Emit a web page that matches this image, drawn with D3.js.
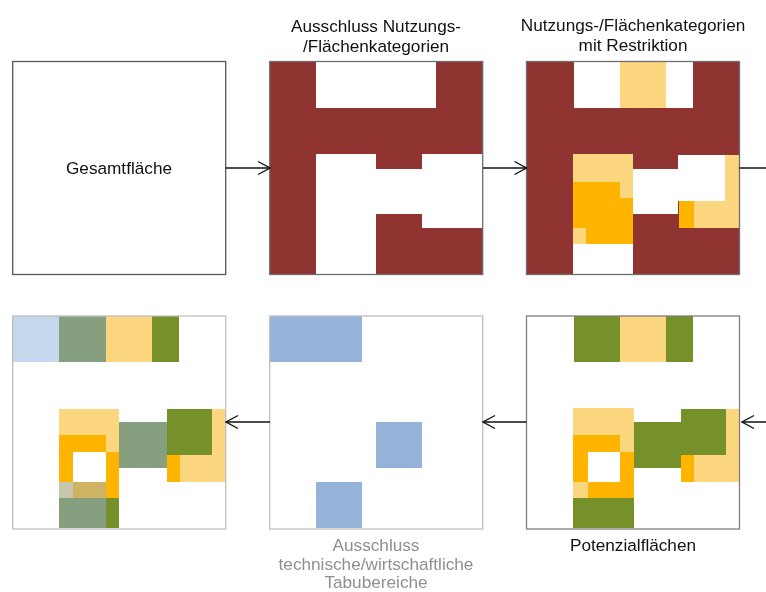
<!DOCTYPE html>
<html><head><meta charset="utf-8">
<script src="https://cdn.jsdelivr.net/npm/d3@7/dist/d3.min.js"></script>
<style>html,body{margin:0;padding:0;background:#fff}svg{display:block;filter:blur(0.4px)}text{font-family:"Liberation Sans",Arial,sans-serif}rect.cell{shape-rendering:crispEdges}</style>
</head><body><svg id="c" width="766" height="592"></svg>
<script>
// Each cell: area class, x0, y0, x1, y1 in map units (0..213)
const categories = ["excl","restrict","strong","pot","tech","techLight","techPot","techGrey","techTan"];
const categoryColours = ["#8f3430","#fdd780","#ffb500","#76912a","#95b2d9","#c5d8ee","#86a07f","#c7c6ac","#cdb363"];

const cellsExclusion = [
  ["excl",0,0,213,213],
  ["free",46.7,0,166.7,46.3],
  ["free",46.7,92.3,106.7,213],
  ["free",106.7,107,152.7,152.3],
  ["free",152.7,92.3,213,166.3]
];
const cellsRestriction = [
  ["excl",0,0,213,213],
  ["free",47,0,166.7,46.3],
  ["restrict",93,0,139.3,46.3],
  ["restrict",46.7,92.3,106.7,182.3],
  ["strong",46.7,120,93,166.7],
  ["strong",93,136.3,106.7,182.3],
  ["strong",59.7,166.7,93,182.3],
  ["free",46.7,182.3,106.7,213],
  ["free",106.7,107,151.7,152.3],
  ["free",151.7,93,198.7,139.7],
  ["restrict",198.7,93,213,166.7],
  ["restrict",167,139.7,198.7,166.7],
  ["strong",152.7,139.7,167,166.7]
];
const cellsPotential = [
  ["pot",47.3,0,93.3,45.6],
  ["restrict",93.3,0,139.7,45.6],
  ["pot",139.7,0,166.7,45.6],
  ["restrict",46.7,92.3,107.3,136],
  ["strong",46.7,119,93,136.3],
  ["strong",46.7,136.3,61.3,165.7],
  ["strong",93,135.7,107.3,182.3],
  ["strong",61.3,165.7,93,182.3],
  ["restrict",46.7,165.7,61.3,182.3],
  ["pot",46.7,182.3,107.3,212],
  ["pot",107.3,105.7,154,152.3],
  ["pot",154,92.7,199.7,139],
  ["restrict",199.7,92.7,213,165.7],
  ["restrict",167.3,139,199.7,165.7],
  ["strong",154,139,167.3,165.7]
];
const cellsTechnical = [
  ["tech",0,0,92.3,46],
  ["tech",106.3,106,152.7,152],
  ["tech",46.3,166.3,92.3,212]
];
const cellsCombined = [
  ["techLight",0,0,46.7,46],
  ["techPot",46.7,0,93,46],
  ["restrict",93,0,139.3,46],
  ["pot",139.3,0,166.7,46],
  ["restrict",46.7,92.7,106.7,136],
  ["strong",46.7,119.3,93,136],
  ["strong",46.7,136,60.7,166],
  ["strong",93,136,106.7,182],
  ["techGrey",46.7,166,60.7,182],
  ["techTan",60.7,166,93,182],
  ["techPot",46.7,182,93.3,212.3],
  ["pot",93.3,182,106.7,212.3],
  ["techPot",106.7,106.3,154,151.7],
  ["pot",154,93,199,138.7],
  ["restrict",199,93,213,166.3],
  ["restrict",167.3,138.7,199,166.3],
  ["strong",154,138.7,167.3,166.3]
];

const panelNames = ["Gesamtfläche","Ausschluss","Restriktion","Kombination","Technisch","Potenzial"];
const panelCells = [[],cellsExclusion,cellsRestriction,cellsCombined,cellsTechnical,cellsPotential];
const panelLeft = [12.7,269.7,526.5,12.7,269.7,526.5];
const panelTop = [61.5,61.5,61.5,316,316,316];
const panelBorder = ["#555555","#6e6e6e","#6e6e6e","#bfbfbf","#bfbfbf","#7f7f7f"];

const labels = [
  {lines:["Gesamtfläche"],x:119,ys:[174],fill:"#111111"},
  {lines:["Ausschluss Nutzungs-","/Flächenkategorien"],x:376,ys:[32,52],fill:"#111111"},
  {lines:["Nutzungs-/Flächenkategorien","mit Restriktion"],x:633,ys:[31,51],fill:"#111111"},
  {lines:["Potenzialflächen"],x:633,ys:[551],fill:"#111111"},
  {lines:["Ausschluss","technische/wirtschaftliche","Tabubereiche"],x:376,ys:[550.5,569.5,588.3],fill:"#8f8f8f"}
];
const arrows = [[226,270,168],[483,526.5,168],[739.5,785,168],[785,742,422],[526.5,483,422],[270,226,422]];

const svg = d3.select("#c");
const colour = d3.scaleOrdinal().domain(categories.concat("free")).range(categoryColours.concat("#ffffff"));
const side = 213;

panelNames.forEach((name,i)=>{
  const x = d3.scaleLinear().domain([0,213]).range([panelLeft[i],panelLeft[i]+side]);
  const y = d3.scaleLinear().domain([0,213]).range([panelTop[i],panelTop[i]+side]);
  const g = svg.append("g").attr("class","panel").attr("data-name",name);
  g.append("rect").attr("x",x(0)).attr("y",y(0)).attr("width",side).attr("height",side).attr("fill","#fff");
  g.selectAll("rect.cell").data(panelCells[i]).join("rect").attr("class","cell")
    .attr("x",d=>x(d[1])).attr("y",d=>y(d[2]))
    .attr("width",d=>x(d[3])-x(d[1])).attr("height",d=>y(d[4])-y(d[2]))
    .attr("fill",d=>colour(d[0]));
  g.append("rect").attr("x",x(0)).attr("y",y(0)).attr("width",side).attr("height",side)
    .attr("fill","none").attr("stroke",panelBorder[i]).attr("stroke-width",1.3);
});

const arrowG = svg.append("g").attr("fill","none").attr("stroke","#111111").attr("stroke-width",1.4);
arrows.forEach(([a,b,yy])=>{
  const dir = Math.sign(b-a);
  arrowG.append("line").attr("x1",a).attr("x2",b).attr("y1",yy).attr("y2",yy);
  arrowG.append("path").attr("d",d3.line()([[b-dir*12,yy-6.5],[b,yy],[b-dir*12,yy+6.5]]));
});

labels.forEach(l=>{
  const t = svg.append("text").attr("text-anchor","middle").attr("font-size",17.2).attr("fill",l.fill);
  l.lines.forEach((s,k)=>t.append("tspan").attr("x",l.x).attr("y",l.ys[k]).text(s));
});
</script></body></html>
